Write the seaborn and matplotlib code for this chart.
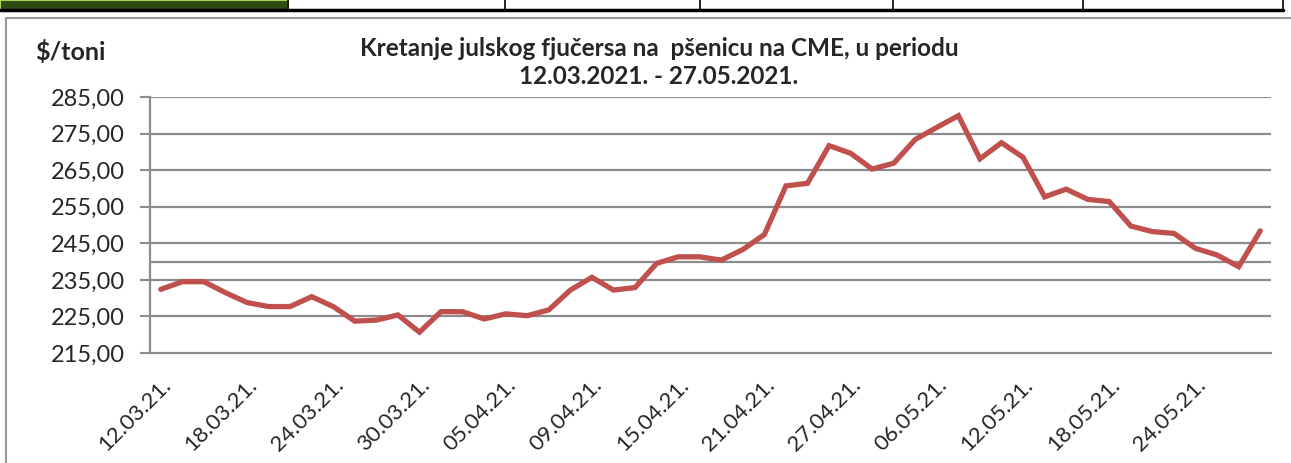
import matplotlib
matplotlib.use("Agg")
import matplotlib.pyplot as plt
import seaborn as sns
import pandas as pd
from matplotlib.patches import Rectangle
from matplotlib.lines import Line2D

dates = ["12.03.21.", "15.03.21.", "16.03.21.", "17.03.21.", "18.03.21.", "19.03.21.",
         "22.03.21.", "23.03.21.", "24.03.21.", "25.03.21.", "26.03.21.", "29.03.21.",
         "30.03.21.", "31.03.21.", "01.04.21.", "02.04.21.", "05.04.21.", "06.04.21.",
         "07.04.21.", "08.04.21.", "09.04.21.", "12.04.21.", "13.04.21.", "14.04.21.",
         "15.04.21.", "16.04.21.", "19.04.21.", "20.04.21.", "21.04.21.", "22.04.21.",
         "23.04.21.", "26.04.21.", "27.04.21.", "28.04.21.", "29.04.21.", "30.04.21.",
         "06.05.21.", "07.05.21.", "10.05.21.", "11.05.21.", "12.05.21.", "13.05.21.",
         "14.05.21.", "17.05.21.", "18.05.21.", "19.05.21.", "20.05.21.", "21.05.21.",
         "24.05.21.", "25.05.21.", "26.05.21.", "27.05.21."]

prices = [232.4, 234.5, 234.5, 231.5, 228.8, 227.7, 227.7, 230.4, 227.7, 223.7,
          224.0, 225.4, 220.7, 226.3, 226.3, 224.3, 225.7, 225.2, 226.8, 232.2,
          235.7, 232.2, 232.9, 239.5, 241.3, 241.3, 240.4, 243.3, 247.4, 260.7,
          261.4, 271.7, 269.6, 265.3, 266.9, 273.4, 276.7, 279.9, 268.1, 272.5,
          268.5, 257.7, 259.8, 257.0, 256.4, 249.7, 248.2, 247.7, 243.6, 241.8,
          238.6, 248.4]

yticks = [215, 225, 235, 245, 255, 265, 275, 285]
title = "Kretanje julskog fjučersa na  pšenicu na CME, u periodu\n12.03.2021. - 27.05.2021."
ylabel = "$/toni"

sns.set_theme(style="white")
plt.rcParams['font.family'] = ['Lato', 'DejaVu Sans']

W, H = 1291, 463
fig = plt.figure(figsize=(W / 100, H / 100), dpi=100)
ax = fig.add_axes([150 / W, 1 - 353 / H, (1271 - 150) / W, (353 - 97) / H])

df = pd.DataFrame({"i": range(len(prices)), "price": prices})
sns.lineplot(data=df, x="i", y="price", ax=ax, color="#C0504D", linewidth=3.8,
             solid_joinstyle="miter")

grid_c = "#8c8c8c"
ax.set_ylim(215, 285)
ax.set_xlim(-0.5, len(prices) - 0.5)
ax.set_yticks(yticks)
ax.set_yticklabels([f"{v:.2f}".replace(".", ",") for v in yticks], fontsize=17)
for v in yticks[1:]:
    ax.axhline(v, color=grid_c, lw=1.6, zorder=0)
ax.axhline(240, color=grid_c, lw=1.6, zorder=0)

ax.set_xticks(list(range(0, len(dates), 4)))
ax.set_xticklabels([dates[k] for k in range(0, len(dates), 4)], rotation=45,
                   ha="right", va="top", rotation_mode="anchor", fontsize=16)
ax.tick_params(axis="x", length=0, pad=16)
ax.tick_params(axis="y", length=7, width=1.5, color=grid_c, direction="out", pad=11, left=True)
ax.set_xlabel("")
ax.set_ylabel("")
for s in ["top", "right"]:
    ax.spines[s].set_visible(False)
for s in ["left", "bottom"]:
    ax.spines[s].set_color(grid_c)
    ax.spines[s].set_linewidth(1.6)

fig.text(659 / W, 1 - 62.5 / H, title, ha="center", va="center", fontsize=17.5,
         fontweight="bold", linespacing=1.25)
fig.text(35 / W, 1 - 52 / H, ylabel, ha="left", va="center", fontsize=18,
         fontweight="bold")

# decorative frame elements (table strip above, chart border)
fig.patches.append(Rectangle((0, 1 - 11 / H), 288 / W, 11 / H, transform=fig.transFigure,
                             facecolor="#2f4a12", edgecolor="#a8d05a", lw=1.5))
fig.lines.append(Line2D([0, 1283 / W], [1 - 10 / H, 1 - 10 / H], transform=fig.transFigure,
                        color="black", lw=2.5))
for xv in [288, 505, 700, 893, 1083, 1283]:
    fig.lines.append(Line2D([xv / W, xv / W], [1 - 10 / H, 1], transform=fig.transFigure,
                            color="black", lw=1.2))
fig.lines.append(Line2D([6 / W, 1], [1 - 18 / H, 1 - 18 / H], transform=fig.transFigure,
                        color="#9a9a9a", lw=1.5))
fig.lines.append(Line2D([6 / W, 6 / W], [0, 1 - 18 / H], transform=fig.transFigure,
                        color="#9a9a9a", lw=1.5))

fig.savefig("out.png", dpi=100)
